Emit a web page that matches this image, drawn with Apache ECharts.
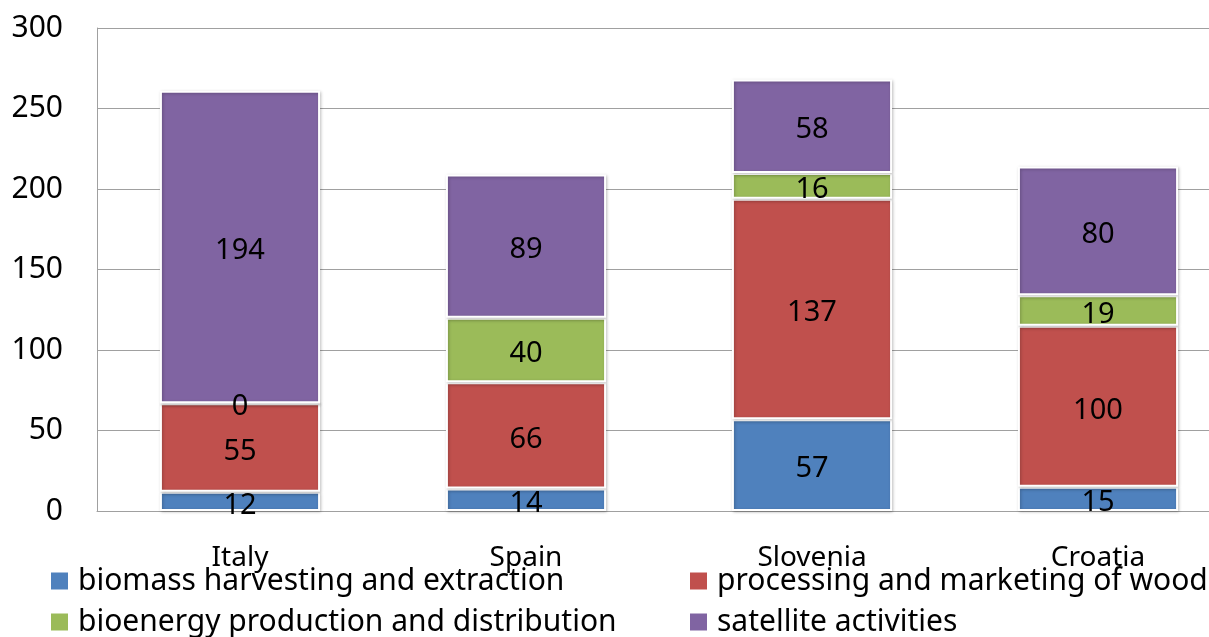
<!DOCTYPE html>
<html>
<head>
<meta charset="utf-8">
<script src="https://cdn.jsdelivr.net/npm/echarts@6/dist/echarts.min.js"></script>
<style>
  html, body { margin: 0; padding: 0; background: #fff; overflow: hidden; width: 1209px; height: 637px; }
  #chart { width: 1241px; height: 700px; }
</style>
</head>
<body>
<div id="chart"></div>
<script>
// Employment by activity (stacked per country)
const categories = ['Italy', 'Spain', 'Slovenia', 'Croatia'];
const seriesNames = [
  'biomass harvesting and extraction',
  'processing and marketing of wood',
  'bioenergy production and distribution',
  'satellite activities'
];
const biomass = [12, 14, 57, 15];
const processing = [55, 66, 137, 100];
const bioenergy = [0, 40, 16, 19];
const satellite = [194, 89, 58, 80];
const yTicks = { min: 0, max: 300, interval: 50 };

const colors = ['#4F81BD', '#C0504D', '#9BBB59', '#8064A2'];
const values = [biomass, processing, bioenergy, satellite];
const FONT = 'Noto Sans';

const chart = echarts.init(document.getElementById('chart'));

const series = seriesNames.map((name, i) => ({
  name: name,
  type: 'bar',
  stack: 'total',
  data: values[i],
  barWidth: '56%',
  itemStyle: {
    color: colors[i],
    borderColor: '#ffffff',
    borderWidth: 2,
    shadowColor: 'rgba(0,0,0,0.25)',
    shadowBlur: 3,
    shadowOffsetX: 1,
    shadowOffsetY: 1
  },
  label: {
    show: true,
    position: 'inside',
    offset: [0, 4],
    color: '#000',
    fontFamily: FONT,
    fontSize: 29
  },
  emphasis: { disabled: true }
}));

const legendText = {
  color: '#000', fontFamily: FONT, fontSize: 30, lineHeight: 30,
  padding: [0, 0, 0, 4]
};
const legendBase = {
  orient: 'vertical',
  top: 566,
  padding: 0,
  itemWidth: 19, itemHeight: 19, itemGap: 11,
  icon: 'rect',
  textStyle: legendText
};

chart.setOption({
  animation: false,
  grid: { left: 97, top: 28, right: 0, bottom: 189 },
  legend: [
    Object.assign({ data: [seriesNames[0], seriesNames[2]], left: 49 }, legendBase),
    Object.assign({ data: [seriesNames[1], seriesNames[3]], left: 688 }, legendBase)
  ],
  xAxis: {
    type: 'category',
    data: categories,
    axisLine: { show: true, lineStyle: { color: '#a0a0a0', width: 1 } },
    axisTick: { show: false },
    axisLabel: { color: '#000', fontFamily: FONT, fontSize: 28, margin: 33 }
  },
  yAxis: {
    type: 'value',
    min: yTicks.min, max: yTicks.max, interval: yTicks.interval,
    axisLine: { show: true, lineStyle: { color: '#a0a0a0', width: 1 } },
    axisTick: { show: false },
    splitLine: { lineStyle: { color: '#a0a0a0', width: 1 } },
    axisLabel: { color: '#000', fontFamily: FONT, fontSize: 30, margin: 34 }
  },
  series: series
});
</script>
</body>
</html>
